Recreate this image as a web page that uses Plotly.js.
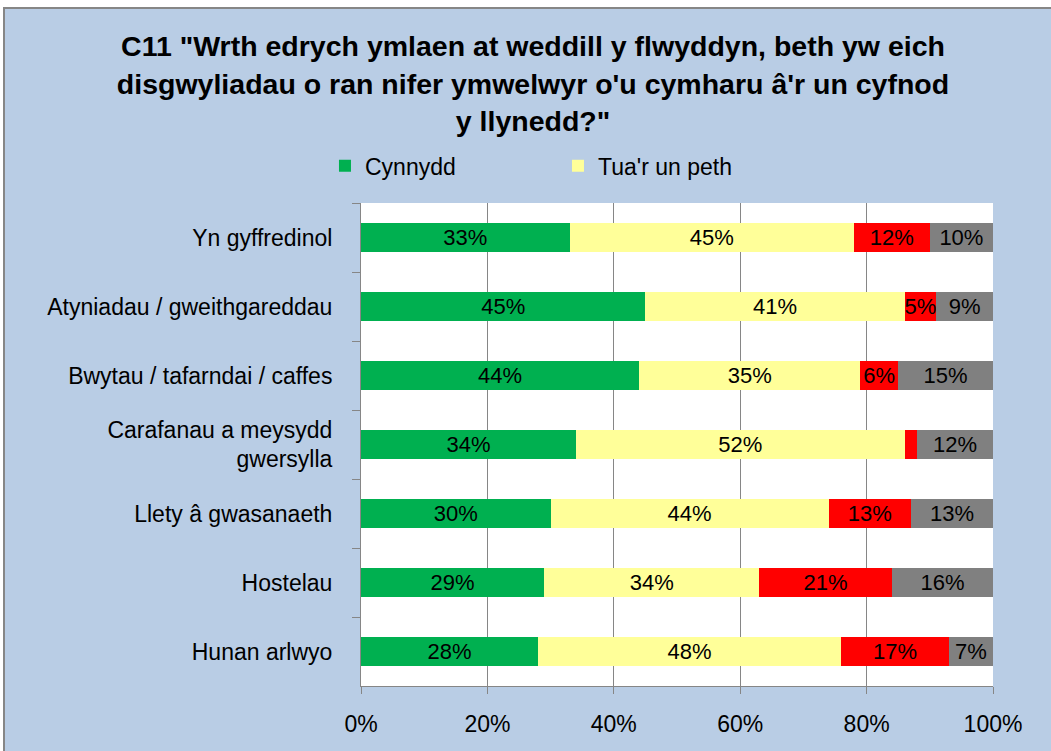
<!DOCTYPE html>
<html>
<head>
<meta charset="utf-8">
<script src="https://cdn.plot.ly/plotly-3.0.1.min.js"></script>
<style>
html,body{margin:0;padding:0;background:#ffffff;width:1051px;height:751px;overflow:hidden;}
#wrap{position:absolute;left:3px;top:7px;width:1048px;height:744px;border-left:2px solid #868686;border-top:2px solid #868686;box-sizing:border-box;overflow:hidden;background:#b9cde5;}
#chart{position:absolute;left:0;top:0;width:1046px;height:742px;}
</style>
</head>
<body>
<div id="wrap"><div id="chart"></div></div>
<script>
const categories = [
  "Yn gyffredinol",
  "Atyniadau / gweithgareddau",
  "Bwytau / tafarndai / caffes",
  "Carafanau a meysydd<br>gwersylla",
  "Llety â gwasanaeth",
  "Hostelau",
  "Hunan arlwyo"
];
const seriesNames = ["Cynnydd", "Tua'r un peth", "Gostyngiad", "Ddim yn gwybod"];
const cynnydd      = [33, 45, 44, 34, 30, 29, 28];
const tuaUnPeth    = [45, 41, 35, 52, 44, 34, 48];
const gostyngiad   = [12, 5, 6, 2, 13, 21, 17];
const ddimGwybod   = [10, 9, 15, 12, 13, 16, 7];
const tickValues   = [0, 0.2, 0.4, 0.6, 0.8, 1.0];
const tickLabels   = ["0%", "20%", "40%", "60%", "80%", "100%"];

const colors = ["#00b050", "#ffff99", "#ff0000", "#808080"];
const allSeries = [cynnydd, tuaUnPeth, gostyngiad, ddimGwybod];
const FONT = "Liberation Sans, Arial, sans-serif";

const traces = allSeries.map((vals, i) => ({
  type: "bar",
  orientation: "h",
  name: seriesNames[i],
  y: categories,
  x: vals.map(v => v / 100),
  text: vals.map(v => (v >= 3 ? v + "%" : "")),
  textposition: "inside",
  insidetextanchor: "middle",
  constraintext: "none",
  textfont: {family: FONT, size: 22, color: "#000000"},
  marker: {color: colors[i], line: {width: 0}},
  showlegend: i < 2,
  hoverinfo: "name+x"
}));

const layout = {
  width: 1046,
  height: 742,
  paper_bgcolor: "#b9cde5",
  plot_bgcolor: "#ffffff",
  margin: {l: 356, r: 58, t: 194, b: 65, pad: 0},
  barmode: "stack",
  bargap: 0.59,
  font: {family: FONT, size: 23, color: "#000000"},
  title: {
    text: "<b>C11 \"Wrth edrych ymlaen at weddill y flwyddyn, beth yw eich<br>disgwyliadau o ran nifer ymwelwyr o'u cymharu â'r un cyfnod<br>y llynedd?\"</b>",
    font: {family: FONT, size: 28.5, color: "#000000"},
    x: 0.5048, xref: "container", xanchor: "center",
    y: 0.936, yref: "container", yanchor: "top"
  },
  legend: {
    orientation: "h",
    x: -0.057, xanchor: "left",
    y: 1.077, yanchor: "middle",
    font: {family: FONT, size: 23, color: "#000000"},
    bgcolor: "rgba(0,0,0,0)",
    entrywidth: 188,
    traceorder: "normal"
  },
  xaxis: {
    range: [0, 1],
    tickvals: tickValues,
    ticktext: tickLabels,
    showgrid: true,
    gridcolor: "#868686",
    gridwidth: 1,
    ticks: "outside",
    ticklen: 7,
    tickcolor: "#868686",
    showline: true,
    linecolor: "#868686",
    linewidth: 1,
    zeroline: false,
    ticklabelstandoff: 10,
    tickfont: {family: FONT, size: 23, color: "#000000"},
    fixedrange: true
  },
  yaxis: {
    type: "category",
    autorange: "reversed",
    ticks: "outside",
    tickson: "boundaries",
    ticklen: 8,
    tickcolor: "#868686",
    showline: true,
    linecolor: "#868686",
    linewidth: 1,
    showgrid: false,
    ticklabelstandoff: 23,
    tickfont: {family: FONT, size: 23, color: "#000000"},
    fixedrange: true
  }
};

Plotly.newPlot("chart", traces, layout, {displayModeBar: false, staticPlot: true});
</script>
</body>
</html>
